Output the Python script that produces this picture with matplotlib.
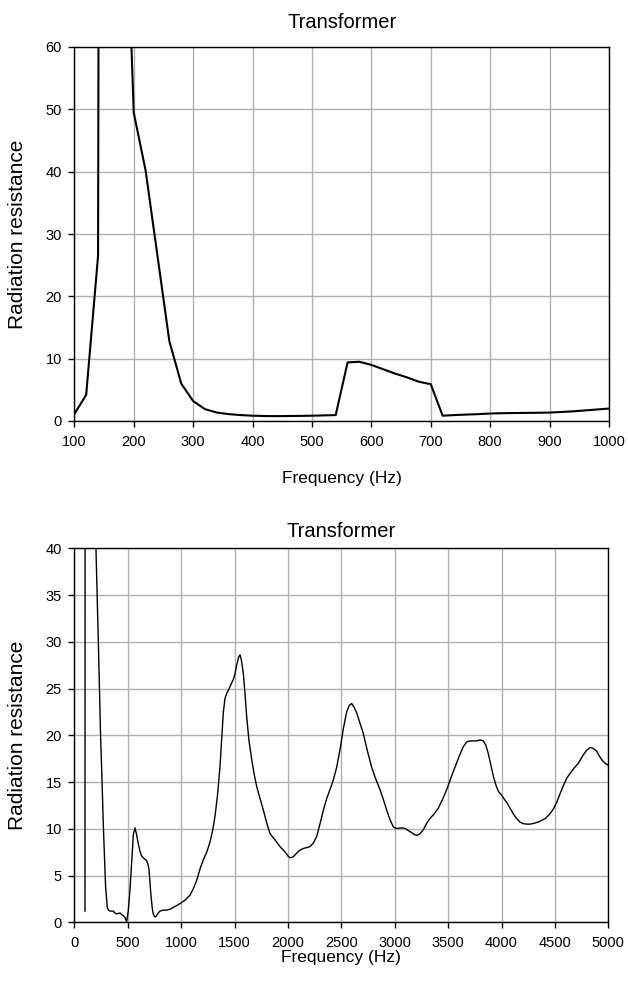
import matplotlib
matplotlib.use("Agg")
import matplotlib.pyplot as plt

plt.rcParams['font.family'] = ['Liberation Sans', 'DejaVu Sans']

# ---- Top chart data (100-1000 Hz) ----
top_freq = [100, 120, 140, 160, 180, 200, 220, 240, 260, 280, 300, 320, 340, 360, 380,
            400, 420, 440, 460, 480, 500, 520, 540, 560, 580, 600, 620, 640, 660, 680,
            700, 720, 740, 760, 780, 800, 820, 840, 860, 880, 900, 920, 940, 960, 980, 1000]
top_res = [1.1, 4.2, 26.5, 1000, 105, 49.5, 40.2, 26.5, 12.8, 6.0, 3.2, 1.9, 1.35, 1.1, 0.95,
           0.85, 0.8, 0.78, 0.8, 0.82, 0.85, 0.9, 0.95, 9.4, 9.5, 9.0, 8.3, 7.6, 7.0, 6.3,
           5.9, 0.85, 0.95, 1.03, 1.1, 1.2, 1.25, 1.28, 1.3, 1.32, 1.35, 1.45, 1.55, 1.7, 1.85, 2.0]

# ---- Bottom chart data (0-5000 Hz) ----
bot_freq = [100, 110, 190, 205, 225, 246, 260, 271, 283, 293, 309, 320, 334, 365, 380,
            396, 428, 445, 459, 475, 490, 505, 521, 537, 553, 568, 583, 599, 615, 630,
            655, 677, 690, 699, 717, 730, 739, 752, 764, 780, 802, 834, 864, 896, 930,
            960, 990, 1040, 1083, 1115, 1146, 1180, 1208, 1240, 1271, 1295, 1317, 1340, 1364, 1380,
            1395, 1410, 1427, 1450, 1473, 1490, 1505, 1520, 1540, 1552, 1565, 1583, 1600, 1614, 1635,
            1661, 1685, 1708, 1740, 1770, 1800, 1832, 1880, 1926, 1975, 2000, 2020, 2050, 2082, 2110,
            2145, 2180, 2207, 2240, 2270, 2300, 2332, 2365, 2394, 2425, 2457, 2490, 2519, 2550, 2575,
            2597, 2620, 2644, 2675, 2706, 2745, 2784, 2820, 2862, 2895, 2925, 2955, 2987, 3010, 3034,
            3065, 3096, 3130, 3159, 3190, 3212, 3240, 3268, 3300, 3330, 3370, 3408, 3450, 3487, 3525,
            3565, 3605, 3643, 3675, 3705, 3740, 3768, 3800, 3830, 3855, 3877, 3900, 3924, 3950, 3971,
            4000, 4018, 4050, 4080, 4110, 4142, 4175, 4204, 4235, 4267, 4310, 4360, 4410, 4454, 4490,
            4516, 4550, 4579, 4610, 4641, 4680, 4719, 4760, 4797, 4830, 4860, 4891, 4915, 4938, 4970,
            5000]
bot_res = [1.2, 400, 48, 39, 30, 20, 15, 10.6, 6.8, 3.8, 1.6, 1.3, 1.2, 1.2, 1.0,
           0.9, 1.0, 0.8, 0.7, 0.5, 0.05, 1.2, 3.4, 6.5, 9.4, 10.1, 9.4, 8.4, 7.6, 7.1,
           6.8, 6.6, 6.2, 5.7, 3.0, 1.5, 0.9, 0.6, 0.6, 0.9, 1.2, 1.3, 1.3, 1.4, 1.6,
           1.8, 2.0, 2.4, 2.9, 3.6, 4.5, 5.8, 6.7, 7.5, 8.6, 9.8, 11.3, 13.5, 16.6, 19.5,
           22.4, 23.9, 24.5, 25.0, 25.6, 26.0, 26.6, 27.5, 28.4, 28.6, 28.0, 26.6, 24.2, 22.0, 19.5,
           17.4, 15.8, 14.5, 13.2, 12.0, 10.7, 9.5, 8.8, 8.1, 7.5, 7.1, 6.9, 7.0, 7.4, 7.7,
           7.9, 8.0, 8.1, 8.5, 9.2, 10.5, 12.0, 13.3, 14.2, 15.2, 16.6, 18.6, 20.7, 22.5, 23.2,
           23.4, 23.0, 22.4, 21.3, 20.2, 18.3, 16.6, 15.4, 14.2, 13.1, 12.0, 11.0, 10.2, 10.05, 10.05,
           10.1, 10.05, 9.8, 9.6, 9.35, 9.3, 9.5, 9.9, 10.6, 11.1, 11.6, 12.2, 13.2, 14.2, 15.4,
           16.6, 17.8, 18.8, 19.3, 19.4, 19.4, 19.4, 19.5, 19.4, 18.9, 18.0, 16.8, 15.6, 14.6, 14.0,
           13.6, 13.3, 12.8, 12.2, 11.6, 11.1, 10.7, 10.55, 10.5, 10.5, 10.6, 10.8, 11.1, 11.6, 12.2,
           12.8, 13.8, 14.6, 15.4, 15.9, 16.5, 17.0, 17.8, 18.4, 18.7, 18.6, 18.3, 17.8, 17.4, 17.0,
           16.8]

top_xticks = [100, 200, 300, 400, 500, 600, 700, 800, 900, 1000]
top_yticks = [0, 10, 20, 30, 40, 50, 60]
bot_xticks = [0, 500, 1000, 1500, 2000, 2500, 3000, 3500, 4000, 4500, 5000]
bot_yticks = [0, 5, 10, 15, 20, 25, 30, 35, 40]

title = "Transformer"
xlabel = "Frequency (Hz)"
ylabel = "Radiation resistance"

W, H = 628, 981
fig = plt.figure(figsize=(W / 100, H / 100), dpi=100)

def box(l, r, t, b):
    return [l / W, 1 - b / H, (r - l) / W, (b - t) / H]

ax1 = fig.add_axes(box(74.3, 609, 47, 421))
ax2 = fig.add_axes(box(74.3, 608.3, 548.3, 922.3))

def style(ax, xticks, yticks, xlim, ylim, xlab_y, title_pad):
    ax.set_xlim(*xlim)
    ax.set_ylim(*ylim)
    ax.set_xticks(xticks)
    ax.set_yticks(yticks)
    ax.grid(True, color='#b0b0b0', linewidth=1.0)
    ax.set_axisbelow(True)
    for s in ax.spines.values():
        s.set_color('black')
        s.set_linewidth(1.0)
    ax.tick_params(axis='both', direction='out', length=4, width=1.0,
                   labelsize=10.5, colors='black')
    ax.tick_params(axis='x', pad=6)
    ax.tick_params(axis='y', pad=5)
    ax.set_xlabel(xlabel, fontsize=12.5)
    ax.xaxis.set_label_coords(0.5, xlab_y)
    ax.set_ylabel(ylabel, fontsize=15)
    ax.yaxis.set_label_coords(-0.088, 0.5)
    ax.set_title(title, fontsize=14.5, pad=title_pad)

ax1.plot(top_freq, top_res, color='black', linewidth=1.5)
style(ax1, top_xticks, top_yticks, (100, 1000), (0, 60), -0.135, 14)

ax2.plot(bot_freq, bot_res, color='black', linewidth=1.0)
style(ax2, bot_xticks, bot_yticks, (0, 5000), (0, 40), -0.074, 8)

fig.savefig("out.png", dpi=100)
